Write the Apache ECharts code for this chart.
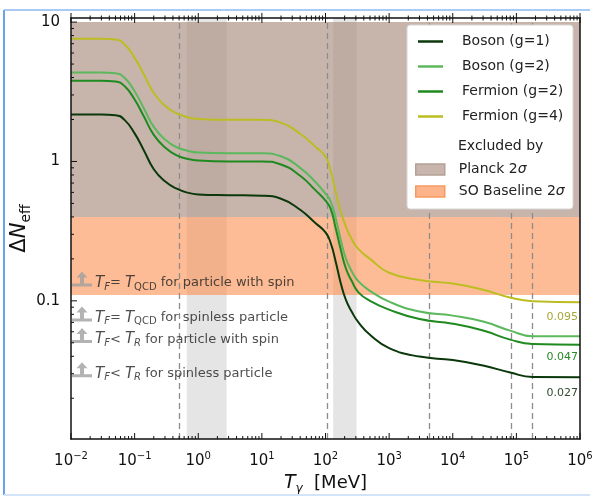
<!DOCTYPE html>
<html>
<head>
<meta charset="utf-8">
<script src="https://cdn.jsdelivr.net/npm/echarts@6/dist/echarts.min.js"></script>
<style>
  html, body { margin: 0; padding: 0; background: #fff; }
  #chart { width: 597px; height: 497px; }
</style>
</head>
<body>
<div id="chart"></div>
<script>
// photon temperature samples [MeV]
const temperatures = [0.01, 0.03, 0.05, 0.07, 0.1, 0.14, 0.2, 0.3, 0.45, 0.7, 1, 3, 10, 20, 40, 70, 100, 120, 145, 175, 210, 260, 330, 500, 1000, 3000, 10000, 30000, 80000, 180000, 1e6];

// Delta N_eff
const bosonG1   = [2.17, 2.17, 2.15, 1.98, 1.59, 1.2, 0.88, 0.72, 0.64, 0.595, 0.58, 0.573, 0.568, 0.54, 0.45, 0.36, 0.31, 0.262, 0.19, 0.132, 0.101, 0.083, 0.07, 0.057, 0.0458, 0.0398, 0.0376, 0.0343, 0.0306, 0.0284, 0.0283];
const bosonG2   = [4.35, 4.35, 4.3, 3.97, 3.19, 2.4, 1.77, 1.44, 1.27, 1.19, 1.16, 1.145, 1.145, 1.09, 0.9, 0.71, 0.587, 0.52, 0.39, 0.27, 0.2, 0.162, 0.138, 0.118, 0.0987, 0.0837, 0.0783, 0.071, 0.0611, 0.0558, 0.0556];
const fermionG2 = [3.79, 3.79, 3.75, 3.46, 2.78, 2.1, 1.55, 1.26, 1.11, 1.04, 1.015, 1.0, 1.0, 0.95, 0.79, 0.62, 0.523, 0.46, 0.33, 0.23, 0.17, 0.138, 0.115, 0.1, 0.0865, 0.074, 0.0686, 0.0612, 0.0527, 0.049, 0.0485];
const fermionG4 = [7.58, 7.58, 7.5, 6.9, 5.54, 4.2, 3.1, 2.51, 2.22, 2.07, 2.02, 1.99, 1.99, 1.9, 1.58, 1.27, 1.08, 0.86, 0.6, 0.43, 0.34, 0.275, 0.235, 0.2, 0.159, 0.141, 0.133, 0.12, 0.1055, 0.0995, 0.0977];

const curveNames = ['Boson (g=1)', 'Boson (g=2)', 'Fermion (g=2)', 'Fermion (g=4)'];
const curveColors = ['#0b380b', '#5cb85c', '#1f8a1f', '#bcbd22'];

// excluded regions
const planckBand = [0.4, 10];
const soBand = [0.11, 0.4];
const bandNames = ['Planck 2σ', 'SO Baseline 2σ'];

// shaded temperature windows and particle mass thresholds
const grayWindows = [[0.66, 2.8], [132, 308]];
const massThresholds = [0.51, 106, 4200, 82000, 180000];

// asymptotic value labels (Fermion g=4, Fermion g=2, Boson g=1)
const finalLabels = ['0.095', '0.047', '0.027'];

// arrow annotations on the left
const arrowLevels = [0.13, 0.073, 0.051, 0.029];
const arrowTexts = [
  '{it|T}{sub|F}{n|= }{it|T}{subr|QCD}{n| for particle with spin}',
  '{it|T}{sub|F}{n|= }{it|T}{subr|QCD}{n| for spinless particle}',
  '{it|T}{sub|F}{n|< }{it|T}{sub|R}{n| for particle with spin}',
  '{it|T}{sub|F}{n|< }{it|T}{sub|R}{n| for spinless particle}'
];

// axis ticks
const xExponents = [-2, -1, 0, 1, 2, 3, 4, 5, 6];
const yTicks = [0.1, 1, 10];
const yTickText = ['0.1', '1', '10'];

const X_MIN = 0.01, X_MAX = 1e6, Y_MIN = 0.0102, Y_MAX = 10.7;
const FONT = 'DejaVu Sans';

function decadeTicks(loExp, hiExp, lo, hi) {
  const out = [];
  for (let e = loExp; e <= hiExp; e++) {
    for (let m = 1; m <= 9; m++) {
      const v = m * Math.pow(10, e);
      if (v >= lo * 0.999 && v <= hi * 1.001) out.push([v, m === 1 ? 1 : 0]);
    }
  }
  return out;
}
const xTickData = decadeTicks(-2, 6, X_MIN, X_MAX);
const yTickData = decadeTicks(-2, 1, Y_MIN, Y_MAX);

function toPairs(ys) { return temperatures.map((t, i) => [t, ys[i]]); }

const curveData = [bosonG1, bosonG2, fermionG2, fermionG4];
const labelFor = { 3: [finalLabels[0], 15, '#a8a83a'], 2: [finalLabels[1], 12.5, '#2a8a2a'], 0: [finalLabels[2], 15.5, '#2f4a2f'] };

const curveSeries = curveData.map((ys, i) => {
  const s = {
    name: curveNames[i],
    type: 'line',
    data: toPairs(ys),
    smooth: 0.5,
    showSymbol: false,
    symbol: 'none',
    color: curveColors[i],
    lineStyle: { width: 2, color: curveColors[i] },
    z: 5,
    silent: true
  };
  if (labelFor[i]) {
    const last = ys.length - 1;
    s.markPoint = {
      symbol: 'circle',
      symbolSize: 0,
      silent: true,
      data: [{ coord: [temperatures[last], ys[last]] }],
      label: {
        show: true,
        position: 'left',
        distance: 2,
        offset: [0, labelFor[i][1]],
        formatter: labelFor[i][0],
        color: labelFor[i][2],
        fontSize: 11,
        fontFamily: FONT
      }
    };
  }
  return s;
});

const arrowPath = 'path://M0,12 L20,12 L20,15 L0,15 Z M8,12 L8,6 L4.5,6 L10,0 L15.5,6 L12,6 L12,12 Z';

const chart = echarts.init(document.getElementById('chart'), null, { renderer: 'canvas' });

const option = {
  animation: false,
  textStyle: { fontFamily: FONT },
  grid: { left: 71, right: 17, top: 18, bottom: 58, containLabel: false, outerBoundsMode: 'none' },
  xAxis: [
    {
      type: 'log', logBase: 10, min: X_MIN, max: X_MAX, splitNumber: 8, z: 10,
      axisLine: { show: true, lineStyle: { color: '#111', width: 1.5 } },
      axisTick: { show: false },
      splitLine: { show: false },
      axisLabel: {
        margin: 12,
        color: '#111',
        formatter: v => {
          const e = Math.round(Math.log10(v));
          if (Math.abs(Math.log10(v) - e) > 1e-6 || xExponents.indexOf(e) < 0) return '';
          return '{b|10}{s|' + (e < 0 ? '−' + (-e) : e) + '}';
        },
        rich: {
          b: { fontSize: 15, lineHeight: 20, color: '#111', fontFamily: FONT },
          s: { fontSize: 10, lineHeight: 11, verticalAlign: 'top', color: '#111', fontFamily: FONT }
        }
      },
      name: '{it|T}{sub|γ}{n|  [MeV]}',
      nameLocation: 'middle',
      nameGap: 32,
      nameTextStyle: {
        rich: {
          it: { fontSize: 19, fontStyle: 'italic', lineHeight: 24, color: '#111', fontFamily: FONT },
          sub: { fontSize: 12, fontStyle: 'italic', lineHeight: 12, verticalAlign: 'bottom', color: '#111', fontFamily: FONT },
          n: { fontSize: 18, lineHeight: 24, color: '#111', fontFamily: FONT }
        }
      }
    },
    {
      type: 'log', logBase: 10, min: X_MIN, max: X_MAX, position: 'top', z: 10,
      axisLine: { show: true, lineStyle: { color: '#111', width: 1.5 } },
      axisTick: { show: false }, axisLabel: { show: false }, splitLine: { show: false }
    }
  ],
  yAxis: [
    {
      type: 'log', logBase: 10, min: Y_MIN, max: Y_MAX, splitNumber: 3, z: 10,
      axisLine: { show: true, lineStyle: { color: '#111', width: 1.5 } },
      axisTick: { show: false },
      splitLine: { show: false },
      axisLabel: {
        margin: 11,
        color: '#111',
        fontSize: 15,
        fontFamily: FONT,
        formatter: v => {
          for (let k = 0; k < yTicks.length; k++) {
            if (Math.abs(Math.log10(v) - Math.log10(yTicks[k])) < 1e-6) return yTickText[k];
          }
          return '';
        }
      },
      name: '{d|Δ}{it|N}{sub|eff}',
      nameLocation: 'middle',
      nameGap: 38,
      nameMoveOverlap: false,
      nameRotate: 90,
      nameTextStyle: {
        rich: {
          d: { fontSize: 21, lineHeight: 26, color: '#111', fontFamily: FONT },
          it: { fontSize: 21, fontStyle: 'italic', lineHeight: 26, color: '#111', fontFamily: FONT },
          sub: { fontSize: 14, lineHeight: 14, verticalAlign: 'bottom', color: '#111', fontFamily: FONT }
        }
      }
    },
    {
      type: 'log', logBase: 10, min: Y_MIN, max: Y_MAX, position: 'right', z: 10,
      axisLine: { show: true, lineStyle: { color: '#111', width: 1.5 } },
      axisTick: { show: false }, axisLabel: { show: false }, splitLine: { show: false }
    }
  ],
  legend: [
    {
      data: curveNames,
      orient: 'vertical',
      left: 418, top: 33,
      padding: 0,
      itemGap: 8,
      icon: 'rect',
      itemWidth: 25, itemHeight: 2.5,
      z: 12,
      selectedMode: false,
      textStyle: { fontSize: 14, lineHeight: 17, color: '#222', fontFamily: FONT, padding: [0, 0, 0, 14] }
    },
    {
      data: bandNames.map((n, i) => ({
        name: n,
        icon: 'rect',
        itemStyle: i === 0
          ? { color: '#c8b6ac', borderColor: '#b3a196', borderWidth: 1.5 }
          : { color: '#fdb48a', borderColor: '#f79a62', borderWidth: 1.5 }
      })),
      orient: 'vertical',
      left: 415, top: 161,
      padding: 0,
      itemGap: 5,
      itemWidth: 29, itemHeight: 11,
      z: 12,
      selectedMode: false,
      formatter: n => n.replace('σ', '{i|σ}'),
      textStyle: {
        fontSize: 14, lineHeight: 17, color: '#222', fontFamily: FONT, padding: [0, 0, 0, 9],
        rich: { i: { fontSize: 14, fontStyle: 'italic', lineHeight: 17, color: '#222', fontFamily: FONT } }
      }
    }
  ],
  graphic: [
    { type: 'rect', z: 11, shape: { x: 407, y: 25, width: 166, height: 184, r: 3 },
      style: { fill: '#fff', stroke: '#d6d6d6', lineWidth: 1 } },
    { type: 'text', z: 12, left: 458, top: 139,
      style: { text: 'Excluded by', font: '14px "DejaVu Sans"', fill: '#222' } },
    { type: 'line', z: 20, shape: { x1: 4, y1: 10, x2: 4, y2: 495 }, style: { stroke: '#6aa2ee', lineWidth: 2 } },
    { type: 'line', z: 20, shape: { x1: 4, y1: 10, x2: 590, y2: 10 }, style: { stroke: '#8cb8f2', lineWidth: 1.5 } },
    { type: 'line', z: 20, shape: { x1: 4, y1: 495, x2: 590, y2: 495 }, style: { stroke: '#d3e3f8', lineWidth: 2 } }
  ],
  series: [
    {
      name: 'windows', type: 'line', data: [], z: 1, silent: true,
      markArea: {
        silent: true,
        itemStyle: { color: '#e5e5e5' },
        data: grayWindows.map(w => [{ xAxis: w[0] }, { xAxis: w[1] }])
      }
    },
    {
      name: bandNames[0], type: 'line', data: [], z: 2, silent: true, color: '#c8b6ac',
      markArea: {
        silent: true,
        itemStyle: { color: 'rgba(168,140,125,0.64)' },
        data: [[{ yAxis: planckBand[0] }, { yAxis: planckBand[1] }]]
      }
    },
    {
      name: bandNames[1], type: 'line', data: [], z: 2, silent: true, color: '#fdb48a',
      markArea: {
        silent: true,
        itemStyle: { color: 'rgba(252,140,72,0.58)' },
        data: [[{ yAxis: soBand[0] }, { yAxis: soBand[1] }]]
      }
    },
    {
      name: 'thresholds', type: 'line', data: [], z: 3, silent: true,
      markLine: {
        silent: true,
        symbol: 'none',
        label: { show: false },
        lineStyle: { color: '#8c8c8c', width: 1.3, type: [6, 4] },
        data: massThresholds.map(v => ({ xAxis: v }))
      }
    },
    ...curveSeries,
    {
      name: 'arrows', type: 'scatter', z: 7, silent: true, clip: false,
      symbol: arrowPath,
      symbolSize: [20, 15],
      symbolOffset: [11, -6],
      itemStyle: { color: '#a0a0a0' },
      data: arrowLevels.map((y, i) => ({
        value: [X_MIN, y],
        label: { formatter: arrowTexts[i] }
      })),
      label: {
        show: true,
        position: 'right',
        distance: 3,
        offset: [0, 4],
        rich: {
          it: { fontSize: 15, fontStyle: 'italic', lineHeight: 18, color: '#222', fontFamily: FONT },
          sub: { fontSize: 10, fontStyle: 'italic', lineHeight: 10, verticalAlign: 'bottom', color: '#222', fontFamily: FONT },
          subr: { fontSize: 10, lineHeight: 10, verticalAlign: 'bottom', color: '#222', fontFamily: FONT },
          n: { fontSize: 13, lineHeight: 18, color: '#222', fontFamily: FONT }
        }
      }
    },
    {
      name: 'xticks', type: 'custom', coordinateSystem: 'cartesian2d', z: 12, silent: true, clip: false,
      data: xTickData.map(t => [t[0], 1, t[1]]),
      renderItem: (params, api) => {
        const cs = params.coordSys;
        const x = api.coord([api.value(0), 1])[0];
        const major = api.value(2) === 1;
        const bl = major ? 6 : 3;
        const tl = major ? 5 : 2.5;
        const bottom = cs.y + cs.height, top = cs.y;
        const st = { stroke: '#111', lineWidth: 1 };
        return {
          type: 'group',
          children: [
            { type: 'line', shape: { x1: x, y1: bottom, x2: x, y2: bottom - bl }, style: st },
            { type: 'line', shape: { x1: x, y1: top - tl, x2: x, y2: top + tl }, style: st }
          ]
        };
      }
    },
    {
      name: 'yticks', type: 'custom', coordinateSystem: 'cartesian2d', z: 12, silent: true, clip: false,
      data: yTickData.map(t => [1, t[0], t[1]]),
      renderItem: (params, api) => {
        const cs = params.coordSys;
        const y = api.coord([1, api.value(1)])[1];
        const len = api.value(2) === 1 ? 6 : 3;
        return {
          type: 'line',
          shape: { x1: cs.x, y1: y, x2: cs.x + len, y2: y },
          style: { stroke: '#111', lineWidth: 1 }
        };
      }
    }
  ]
};

chart.setOption(option);
</script>
</body>
</html>
